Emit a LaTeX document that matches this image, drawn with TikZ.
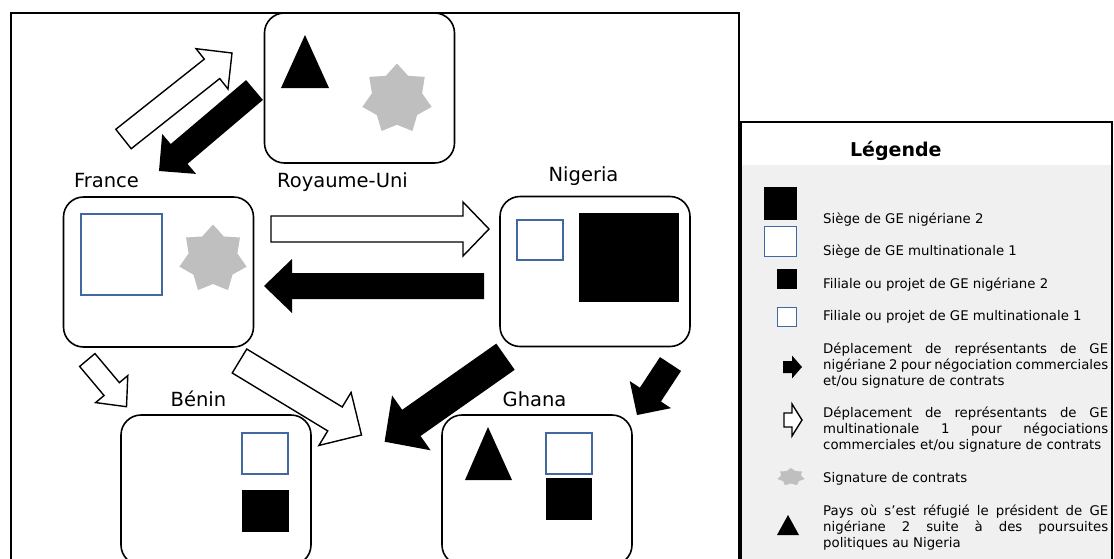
\documentclass[tikz,border=0pt]{standalone}
\usepackage{fontspec}
\setmainfont{DejaVu Sans}
\usetikzlibrary{calc,shapes.geometric}

\definecolor{geblue}{RGB}{65,105,160}
\definecolor{stargray}{RGB}{191,191,191}
\definecolor{leggray}{RGB}{240,240,240}

% block arrow: style, tail, tip, half shaft, half head, head length
\newcommand{\blockarrow}[6]{%
  \coordinate (ba-h) at ($(#3)!#6!(#2)$);
  \path[#1] ($(#2)!#4!90:(#3)$) -- ($(ba-h)!#4!-90:(#2)$) -- ($(ba-h)!#5!-90:(#2)$)
    -- (#3) -- ($(ba-h)!#5!90:(#2)$) -- ($(ba-h)!#4!90:(#2)$) -- ($(#2)!#4!-90:(#3)$) -- cycle;}

\begin{document}
\begin{tikzpicture}[x=1pt, y=-1pt,
	pays/.style={draw, line width=1.6pt, rounded corners=20pt, minimum width=190pt, minimum height=150pt, inner sep=0pt},
	nom/.style={font=\fontsize{19.5}{23}\selectfont, anchor=base, inner sep=0pt},
	leg/.style={font=\fontsize{13.3}{16}\selectfont, anchor=base west, inner sep=0pt},
	bleu/.style={draw=geblue, line width=1.5pt, fill=white},
	etoile/.style={star, star points=7, star point ratio=1.38, fill=stargray, inner sep=0pt},
	blanche/.style={draw, line width=1.4pt, fill=white},
	pleine/.style={fill=black}]

	\useasboundingbox (0,0) rectangle (1114,558);
	\clip (0,0) rectangle (1114,558);

	% pays
	\node[pays] (uk) at (359.5,88) {};
	\node[pays] (fr) at (158.5,272) {};
	\node[pays] (ng) at (595,271.5) {};
	\node[pays] (bj) at (216,490) {};
	\node[pays] (gh) at (537,490) {};

	\node[nom] (frnom) at (106.5,187) {France};
	\node[nom] (uknom) at (342.5,187) {Royaume-Uni};
	\node[nom] (ngnom) at (583.5,181) {Nigeria};
	\node[nom] (bjnom) at (198.5,406) {Bénin};
	\node[nom] (ghnom) at (534.5,406) {Ghana};

	% contenu des pays
	\fill (305,35) -- (329,88) -- (281,88) -- cycle;
	\node[etoile, minimum size=71pt] (ukstar) at (397,99) {};
	\draw[bleu] (81,214) rectangle (162,295);
	\node[etoile, minimum size=69pt] (frstar) at (213,259) {};
	\draw[bleu] (517,220) rectangle (563,260);
	\fill (579,213) rectangle (679,302);
	\draw[bleu] (242,433) rectangle (288,474);
	\fill (242,490) rectangle (289,532);
	\fill (488,427) -- (512,480) -- (465,480) -- cycle;
	\draw[bleu] (546,433) rectangle (592,474);
	\fill (546,478) rectangle (592,520);

	% deplacements
	\coordinate (frng-t) at (271,229);
	\coordinate (frng-p) at (489,229);
	\coordinate (ngfr-t) at (484,286);
	\coordinate (ngfr-p) at (264,286);
	\coordinate (fruk-t) at (123.5,139);
	\coordinate (fruk-p) at (232,53);
	\coordinate (ukfr-t) at (254.5,90);
	\coordinate (ukfr-p) at (159,171);
	\coordinate (frbj-t) at (87.3,360);
	\coordinate (frbj-p) at (126.5,406.7);
	\coordinate (frgh-t) at (239.5,361);
	\coordinate (frgh-p) at (361.5,435);
	\coordinate (ngbj-t) at (505.5,356.7);
	\coordinate (ngbj-p) at (384.6,441.7);
	\coordinate (nggh-t) at (670.5,364);
	\coordinate (nggh-p) at (637,415);

	\blockarrow{blanche}{frng-t}{frng-p}{13pt}{27pt}{26pt}
	\blockarrow{pleine}{ngfr-t}{ngfr-p}{13pt}{27pt}{28pt}
	\blockarrow{blanche}{fruk-t}{fruk-p}{12.4pt}{25.7pt}{25.5pt}
	\blockarrow{pleine}{ukfr-t}{ukfr-p}{13pt}{26.2pt}{26.4pt}
	\blockarrow{blanche}{frbj-t}{frbj-p}{10pt}{21pt}{23pt}
	\blockarrow{blanche}{frgh-t}{frgh-p}{14pt}{31pt}{31pt}
	\blockarrow{pleine}{ngbj-t}{ngbj-p}{16pt}{33.5pt}{32.7pt}
	\blockarrow{pleine}{nggh-t}{nggh-p}{12.6pt}{24.7pt}{24.4pt}

	% cadre
	\draw[line width=2pt] (11,570) -- (11,13) -- (739,13) -- (739,570);

	% legende
	\fill[leggray] (740,165) rectangle (1112,570);
	\node[font=\fontsize{19}{23}\bfseries\selectfont, anchor=base, inner sep=0pt] (titre) at (895.8,156.7) {Légende};

	\fill (764,187) rectangle (797,220);
	\draw[bleu] (764.5,226.5) rectangle (796.5,256.5);
	\fill (777,269) rectangle (797,289);
	\draw[bleu] (777.5,307.5) rectangle (796.5,326.5);

	\coordinate (lg1-t) at (783,367);
	\coordinate (lg1-p) at (802,367);
	\coordinate (lg2-t) at (784,420);
	\coordinate (lg2-p) at (802,420);
	\blockarrow{pleine}{lg1-t}{lg1-p}{6pt}{11.5pt}{10pt}
	\blockarrow{blanche}{lg2-t}{lg2-p}{7pt}{16pt}{10pt}
	\node[etoile, minimum size=18pt, xscale=1.55] (lgstar) at (791,477) {};
	\fill (777,535) -- (799,535) -- (788,515) -- cycle;

	\node[leg] (l1) at (823,223.3) {Siège de GE nigériane 2};
	\node[leg] (l2) at (823,255) {Siège de GE multinationale 1};
	\node[leg] (l3) at (823,288) {Filiale ou projet de GE nigériane 2};
	\node[leg] (l4) at (823,320) {Filiale ou projet de GE multinationale 1};
	\node[leg] (l5a) at (823,353) {\makebox[285pt][s]{Déplacement de représentants de GE}};
	\node[leg] (l5b) at (823,369) {\makebox[285pt][s]{nigériane 2 pour négociation commerciales}};
	\node[leg] (l5c) at (823,385) {et/ou signature de contrats};
	\node[leg] (l6a) at (823,417) {\makebox[285pt][s]{Déplacement de représentants de GE}};
	\node[leg] (l6b) at (823,433) {\makebox[285pt][s]{multinationale 1 pour négociations}};
	\node[leg] (l6c) at (823,449) {commerciales et/ou signature de contrats};
	\node[leg] (l7) at (823,482) {Signature de contrats};
	\node[leg] (l8a) at (823,515) {\makebox[285pt][s]{Pays où s’est réfugié le président de GE}};
	\node[leg] (l8b) at (823,531) {\makebox[285pt][s]{nigériane 2 suite à des poursuites}};
	\node[leg] (l8c) at (823,547) {politiques au Nigeria};

	\draw[line width=2.5pt] (1112,570) -- (1112,122) -- (740,122);
	\draw[line width=3.5pt] (740,120.75) -- (740,570);
\end{tikzpicture}
\end{document}
